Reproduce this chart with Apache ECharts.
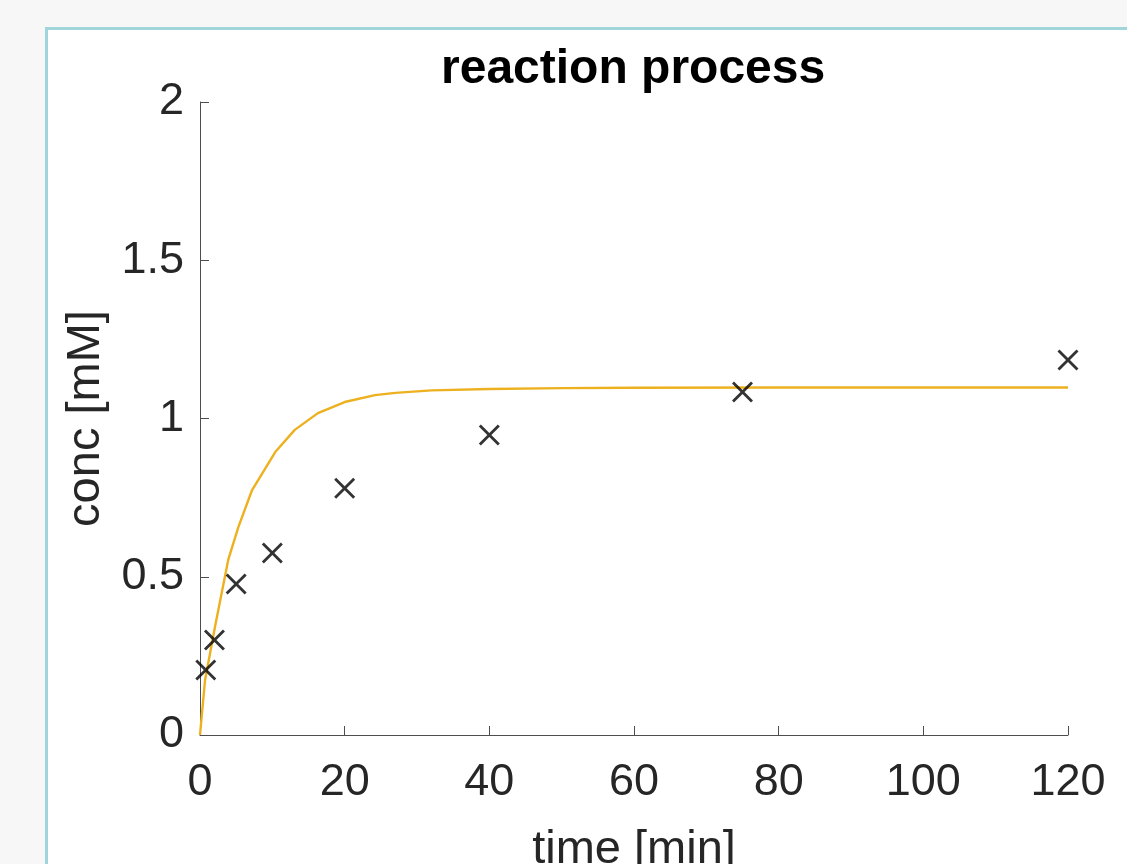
<!DOCTYPE html>
<html>
<head>
<meta charset="utf-8">
<title>reaction process</title>
<script src="https://cdn.jsdelivr.net/npm/echarts@6/dist/echarts.min.js"></script>
<style>
html, body { margin: 0; padding: 0; background: #f7f7f7; }
#chart { width: 1127px; height: 864px; }
</style>
</head>
<body>
<div id="chart"></div>
<script>
var chart = echarts.init(document.getElementById('chart'));

// measured points (time [min], conc [mM])
var measTime = [0.8, 2, 5, 10, 20, 40, 75, 120];
var measConc = [0.205, 0.30, 0.477, 0.575, 0.78, 0.948, 1.084, 1.185];

// fitted model curve
var fitTime = [0, 0.7, 2.07, 3.9, 5.3, 7.2, 10.4, 13.1, 16.3, 20, 24.2, 27, 32, 40, 50, 60, 80, 100, 120];
var fitConc = [0, 0.174, 0.341, 0.553, 0.657, 0.774, 0.894, 0.964, 1.017, 1.052, 1.074, 1.081, 1.089, 1.093, 1.096, 1.097, 1.098, 1.098, 1.098];

var xTicks = [0, 20, 40, 60, 80, 100, 120];
var yTicks = [0, 0.5, 1, 1.5, 2];

var textColor = '#262626';
var axisColor = '#4d4d4d';
var fontName = '"Liberation Sans", Arial, Helvetica, sans-serif';

// cross marker, filled outline
var crossPath = 'path://M0,1.9L1.9,0L10,8.1L18.1,0L20,1.9L11.9,10L20,18.1L18.1,20L10,11.9L1.9,20L0,18.1L8.1,10Z';

function pairs(xs, ys) {
    var res = [];
    for (var i = 0; i < xs.length; i++) res.push([xs[i], ys[i]]);
    return res;
}

var option = {
    backgroundColor: '#f7f7f7',
    animation: false,
    textStyle: { fontFamily: fontName },
    graphic: [
        {
            type: 'rect',
            z: -10,
            shape: { x: 46.5, y: 28.5, width: 1200, height: 1000 },
            style: { fill: '#ffffff', stroke: '#9fd5db', lineWidth: 3 }
        }
    ],
    title: {
        text: 'reaction process',
        left: 436,
        top: 41,
        textStyle: {
            color: '#000',
            fontFamily: fontName,
            fontWeight: 'bold',
            fontSize: 48
        }
    },
    grid: {
        left: 200,
        right: 59,
        top: 102,
        bottom: 129,
        containLabel: false,
        outerBoundsMode: 'none'
    },
    xAxis: {
        type: 'value',
        min: xTicks[0],
        max: xTicks[xTicks.length - 1],
        interval: 20,
        name: 'time [min]',
        nameLocation: 'middle',
        nameGap: 92,
        nameTextStyle: { color: textColor, fontSize: 47, fontFamily: fontName },
        axisLine: { show: true, lineStyle: { color: axisColor, width: 1 } },
        axisTick: { show: true, inside: true, length: 9, lineStyle: { color: axisColor } },
        axisLabel: { color: textColor, fontSize: 45, margin: 25, fontFamily: fontName },
        splitLine: { show: false }
    },
    yAxis: {
        type: 'value',
        min: yTicks[0],
        max: yTicks[yTicks.length - 1],
        interval: 0.5,
        name: 'conc [mM]',
        nameLocation: 'middle',
        nameGap: 90,
        nameTextStyle: { color: textColor, fontSize: 47, fontFamily: fontName },
        axisLine: { show: true, lineStyle: { color: axisColor, width: 1 } },
        axisTick: { show: true, inside: true, length: 9, lineStyle: { color: axisColor } },
        axisLabel: { color: textColor, fontSize: 45, margin: 16, padding: [12, 0, 0, 0], fontFamily: fontName },
        splitLine: { show: false }
    },
    series: [
        {
            name: 'fit',
            type: 'line',
            showSymbol: false,
            smooth: false,
            data: pairs(fitTime, fitConc),
            lineStyle: { color: '#edb120', width: 2.4 },
            z: 2
        },
        {
            name: 'measured',
            type: 'scatter',
            symbol: crossPath,
            symbolSize: 21,
            data: pairs(measTime, measConc),
            itemStyle: { color: '#000000' },
            z: 3
        }
    ]
};

chart.setOption(option);
</script>
</body>
</html>
